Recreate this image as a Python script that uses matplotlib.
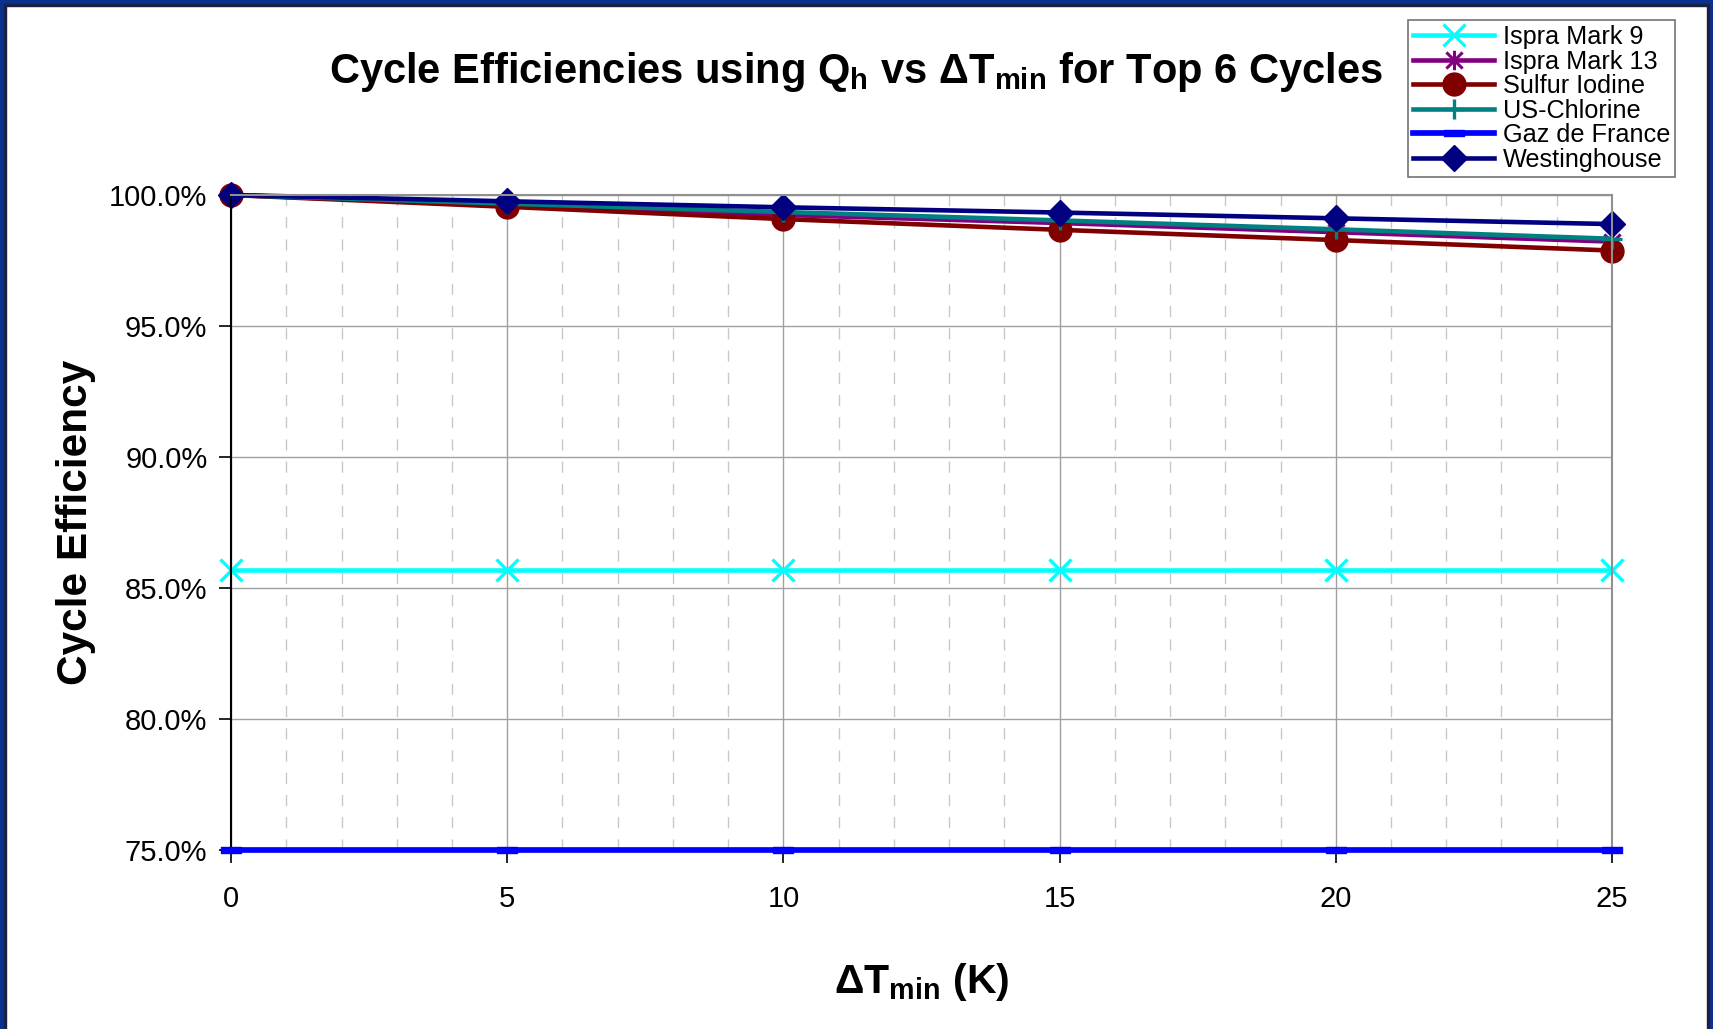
import matplotlib
matplotlib.use('Agg')
import matplotlib.pyplot as plt
from matplotlib.ticker import MultipleLocator, PercentFormatter
from matplotlib.path import Path
from matplotlib.patches import Rectangle

plt.rcParams['font.family'] = ['Liberation Sans', 'DejaVu Sans']
plt.rcParams['mathtext.default'] = 'regular'

dt_min = [0, 5, 10, 15, 20, 25]
ispra_9 = [85.7, 85.7, 85.7, 85.7, 85.7, 85.7]
ispra_13 = [100.0, 99.62, 99.24, 98.93, 98.58, 98.22]
sulfur_iodine = [100.0, 99.55, 99.08, 98.67, 98.28, 97.88]
us_chlorine = [100.0, 99.67, 99.35, 99.03, 98.69, 98.33]
gaz_de_france = [75.0, 75.0, 75.0, 75.0, 75.0, 75.0]
westinghouse = [100.0, 99.76, 99.53, 99.33, 99.11, 98.89]

# excel style star: an x with a vertical bar through it
star = Path([(-1, -1), (1, 1), (-1, 1), (1, -1), (0, -1.2), (0, 1.2)],
            [Path.MOVETO, Path.LINETO, Path.MOVETO, Path.LINETO, Path.MOVETO, Path.LINETO])
dash = Path([(-1, -0.3), (1, -0.3), (1, 0.3), (-1, 0.3), (-1, -0.3)],
            [Path.MOVETO, Path.LINETO, Path.LINETO, Path.LINETO, Path.CLOSEPOLY])

fig = plt.figure(figsize=(17.13, 10.29), dpi=100)
ax = fig.add_axes([0.1349, 0.174, 0.8061, 0.6365])

lw = 3.3
ax.plot(dt_min, ispra_9, color='#00FFFF', lw=lw, marker='x', ms=16, mew=2.4,
        label='Ispra Mark 9', clip_on=False)
ax.plot(dt_min, ispra_13, color='#800080', lw=lw, marker=star, ms=14, mew=2.2,
        label='Ispra Mark 13', clip_on=False)
ax.plot(dt_min, sulfur_iodine, color='#800000', lw=lw, marker='o', ms=16.5,
        label='Sulfur Iodine', clip_on=False)
ax.plot(dt_min, us_chlorine, color='#008080', lw=lw, marker='+', ms=15, mew=2.4,
        label='US-Chlorine', clip_on=False)
ax.plot(dt_min, gaz_de_france, color='#0000FF', lw=lw + 0.8, marker=dash, ms=14,
        label='Gaz de France', clip_on=False, zorder=5)
ax.plot(dt_min, westinghouse, color='#000080', lw=lw, marker='D', ms=13.5,
        label='Westinghouse', clip_on=False)

ax.set_xlim(0, 25)
ax.set_ylim(75, 100)
ax.xaxis.set_major_locator(MultipleLocator(5))
ax.xaxis.set_minor_locator(MultipleLocator(1))
ax.yaxis.set_major_locator(MultipleLocator(5))
ax.yaxis.set_major_formatter(PercentFormatter(decimals=1))

ax.grid(which='major', color='#a0a0a0', lw=1.0)
ax.grid(which='minor', axis='x', color='#c8c8c8', lw=1.0, linestyle=(0, (8, 8)))
ax.set_axisbelow(True)

for side in ['top', 'right']:
    ax.spines[side].set_color('#909090')
    ax.spines[side].set_linewidth(1.5)
ax.spines['left'].set_color('black')
ax.spines['bottom'].set_color('black')
ax.spines['left'].set_linewidth(1.5)

ax.tick_params(which='major', direction='out', length=9, width=1.2, labelsize=21, pad=8)
ax.tick_params(which='minor', length=0)
ax.tick_params(axis='x', pad=16)

fig.text(0.4998, 0.919, 'Cycle Efficiencies using Q$_{h}$ vs \u0394T$_{min}$ for Top 6 Cycles',
         ha='center', va='baseline', fontsize=30, fontweight='bold')
ax.set_ylabel('Cycle Efficiency', fontsize=30.5, fontweight='bold')
ax.yaxis.set_label_coords(-0.098, 0.5)
ax.set_xlabel('\u0394T$_{min}$ (K)', fontsize=29.5, fontweight='bold')
ax.xaxis.set_label_coords(0.5, -0.17)

leg = fig.legend(loc='upper left', bbox_to_anchor=(1408 / 1713, 1 - 20 / 1029),
                 fontsize=18.2, frameon=True, fancybox=False, edgecolor='#505050',
                 borderpad=0.2, labelspacing=0.02, handlelength=3.2, handletextpad=0.35,
                 borderaxespad=0)
leg.get_frame().set_linewidth(1.2)

# dark blue frame round the figure
W, H = 1713, 1029
def px_rect(x, y, w, h, color):
    fig.patches.append(Rectangle((x / W, 1 - (y + h) / H), w / W, h / H,
                                 transform=fig.transFigure, color=color, zorder=10))

blue = '#0b3190'
edge = '#1b2140'
px_rect(0, 0, W, 4, blue)
px_rect(0, 0, 4, H, blue)
px_rect(W - 4, 0, 4, H, blue)
px_rect(4, 4, W - 8, 2, edge)
px_rect(4, 4, 2, H, edge)
px_rect(W - 6, 4, 2, H, edge)

fig.savefig('out.png', dpi=100)
